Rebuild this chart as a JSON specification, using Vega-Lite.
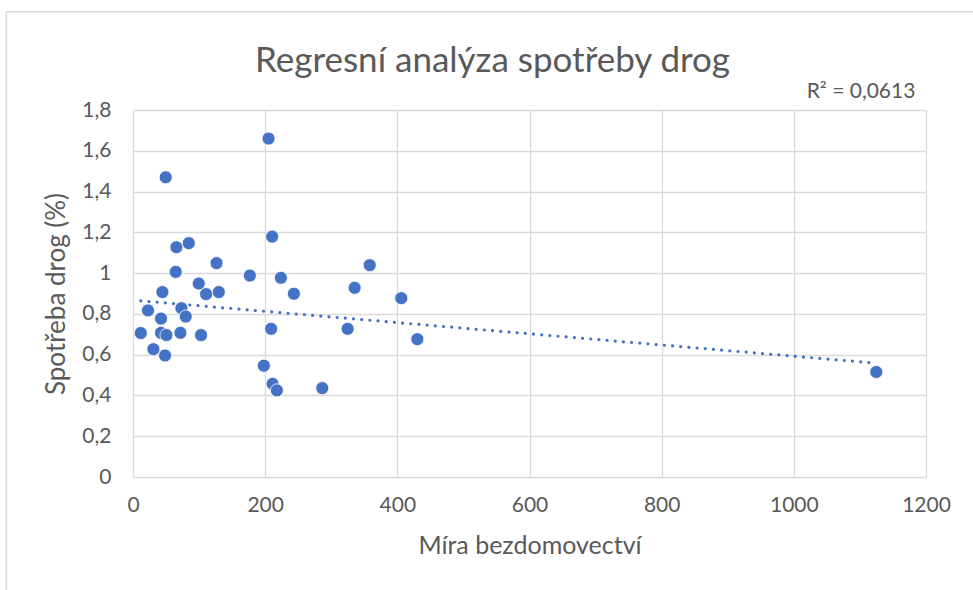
{
  "$schema": "https://vega.github.io/schema/vega-lite/v6.json",
  "autosize": {"type": "none"},
  "padding": {"left": 133, "top": 110, "right": 47, "bottom": 113},
  "width": 793,
  "height": 367,
  "background": "white",
  "config": {
    "locale": {"number": {"decimal": ",", "thousands": "", "grouping": [3], "currency": ["", ""]}},
    "font": "Lato",
    "view": {"stroke": null},
    "axis": {
      "labelFont": "Lato", "titleFont": "Lato",
      "labelColor": "#595959", "titleColor": "#595959",
      "labelFontSize": 21, "titleFontSize": 25, "titleFontWeight": "normal",
      "grid": true,
      "gridColor": "#d9d9d9", "gridWidth": 1.3, "ticks": false, "domain": false,
      "labelFlush": false
    }
  },
  "title": {
    "text": "Regresní analýza spotřeby drog",
    "font": "Lato", "fontSize": 35, "fontWeight": "normal", "color": "#595959",
    "dx": -37, "offset": -68
  },
  "datasets": {
    "pts": [
      {"x": 11.8, "y": 0.706}, {"x": 22.7, "y": 0.817}, {"x": 30.9, "y": 0.627},
      {"x": 44.5, "y": 0.907}, {"x": 42.4, "y": 0.777}, {"x": 42.4, "y": 0.707},
      {"x": 50.6, "y": 0.696}, {"x": 48.5, "y": 0.596}, {"x": 49.5, "y": 1.47},
      {"x": 64.7, "y": 1.006}, {"x": 65.7, "y": 1.127}, {"x": 84.4, "y": 1.147},
      {"x": 71.8, "y": 0.707}, {"x": 73.3, "y": 0.828}, {"x": 79.8, "y": 0.787},
      {"x": 99.5, "y": 0.949}, {"x": 103, "y": 0.696}, {"x": 110.6, "y": 0.897},
      {"x": 126.4, "y": 1.049}, {"x": 129.8, "y": 0.907}, {"x": 176.8, "y": 0.988},
      {"x": 198, "y": 0.546}, {"x": 205.1, "y": 1.66}, {"x": 209, "y": 0.727},
      {"x": 210.6, "y": 1.179}, {"x": 211.2, "y": 0.457}, {"x": 217.7, "y": 0.425},
      {"x": 223.8, "y": 0.977}, {"x": 243.5, "y": 0.899}, {"x": 286.4, "y": 0.436},
      {"x": 324.8, "y": 0.727}, {"x": 335.4, "y": 0.928}, {"x": 358.2, "y": 1.039},
      {"x": 406, "y": 0.877}, {"x": 430.3, "y": 0.676}, {"x": 1124.8, "y": 0.515}
    ],
    "trend": [{"x": 11.8, "y": 0.864}, {"x": 1124.8, "y": 0.558}],
    "label": [{"x": 1184, "y": 1.89, "t": "R² = 0,0613"}]
  },
  "layer": [
    {
      "data": {"name": "pts"},
      "mark": {"type": "point", "filled": true, "size": 170, "color": "#4472C4", "opacity": 1, "stroke": "white", "strokeWidth": 0.8},
      "encoding": {
        "x": {"field": "x", "type": "quantitative", "scale": {"domain": [0, 1200], "nice": false, "zero": true},
              "axis": {"grid": true, "values": [0, 200, 400, 600, 800, 1000, 1200], "format": "d", "title": "Míra bezdomovectví", "labelPadding": 17, "titlePadding": 18}},
        "y": {"field": "y", "type": "quantitative", "scale": {"domain": [0, 1.8], "nice": false},
              "axis": {"grid": true, "values": [0, 0.2, 0.4, 0.6, 0.8, 1, 1.2, 1.4, 1.6, 1.8], "format": ".1~f", "title": "Spotřeba drog (%)", "titleFontSize": 26, "labelPadding": 22, "titlePadding": 12}}
      }
    },
    {
      "data": {"name": "trend"},
      "mark": {"type": "line", "color": "#4472C4", "strokeWidth": 3.2, "strokeDash": [0.01, 8.2], "strokeCap": "round"},
      "encoding": {
        "x": {"field": "x", "type": "quantitative"},
        "y": {"field": "y", "type": "quantitative"}
      }
    },
    {
      "data": {"name": "label"},
      "mark": {"type": "text", "align": "right", "baseline": "middle", "font": "Lato", "fontSize": 21, "color": "#595959"},
      "encoding": {
        "x": {"field": "x", "type": "quantitative"},
        "y": {"field": "y", "type": "quantitative"},
        "text": {"field": "t"}
      }
    },
    {
      "data": {"values": [{}]},
      "mark": {"type": "rule", "color": "#d9d9d9", "strokeWidth": 1.5},
      "encoding": {
        "x": {"datum": -191.6, "type": "quantitative"},
        "x2": {"datum": 1300},
        "y": {"datum": 2.282, "type": "quantitative"}
      }
    },
    {
      "data": {"values": [{}]},
      "mark": {"type": "rule", "color": "#d9d9d9", "strokeWidth": 1.5},
      "encoding": {
        "x": {"datum": -191.6, "type": "quantitative"},
        "y": {"datum": 2.282, "type": "quantitative"},
        "y2": {"datum": -0.7}
      }
    }
  ]
}
